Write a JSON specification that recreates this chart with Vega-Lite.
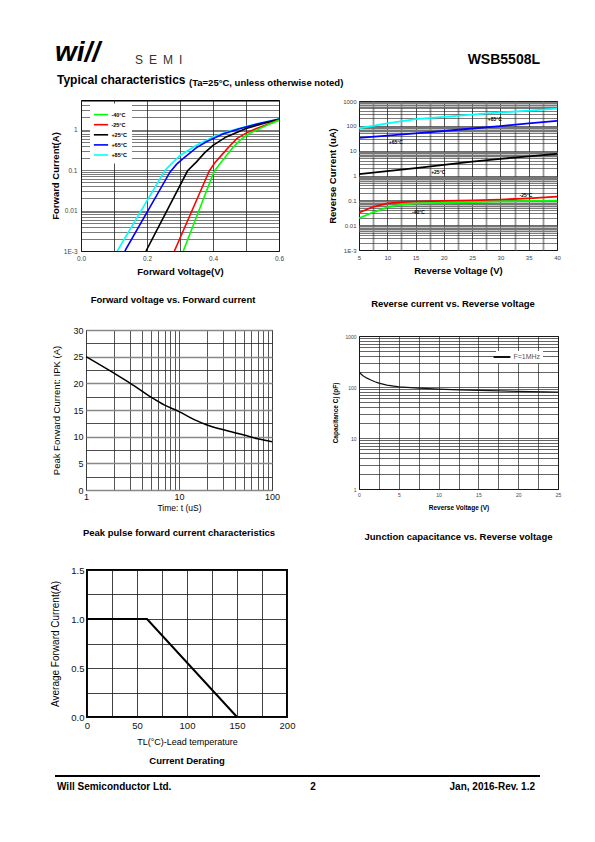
{
"$schema":"https://vega.github.io/schema/vega-lite/v6.json",
"padding":0,
"background":"white",
"bounds":"flush",
"spacing":0,
"resolve":{"scale":{"color":"independent"},"legend":{"color":"independent"}},
"config":{
 "font":"Liberation Sans",
 "view":{"stroke":null},
 "axis":{"ticks":false,"domain":false,"labelOverlap":false,"labelFlush":false,"labelBound":false,"gridOpacity":1,"titleColor":"black"},
 "title":{"baseline":"alphabetic","color":"black","offset":0}
},
"datasets":{
 "fv":[
  {"s":"+85°C","v":0.11,"i":0.001},{"s":"+85°C","v":0.255,"i":0.1},{"s":"+85°C","v":0.28,"i":0.16},{"s":"+85°C","v":0.3,"i":0.23},{"s":"+85°C","v":0.35,"i":0.41},{"s":"+85°C","v":0.4,"i":0.66},{"s":"+85°C","v":0.45,"i":0.92},{"s":"+85°C","v":0.5,"i":1.2},{"s":"+85°C","v":0.55,"i":1.5},{"s":"+85°C","v":0.6,"i":1.85},
  {"s":"+65°C","v":0.133,"i":0.001},{"s":"+65°C","v":0.27,"i":0.09},{"s":"+65°C","v":0.29,"i":0.14},{"s":"+65°C","v":0.31,"i":0.195},{"s":"+65°C","v":0.35,"i":0.36},{"s":"+65°C","v":0.38,"i":0.5},{"s":"+65°C","v":0.43,"i":0.78},{"s":"+65°C","v":0.48,"i":1.05},{"s":"+65°C","v":0.54,"i":1.42},{"s":"+65°C","v":0.6,"i":1.8},
  {"s":"+25°C","v":0.197,"i":0.001},{"s":"+25°C","v":0.323,"i":0.096},{"s":"+25°C","v":0.35,"i":0.16},{"s":"+25°C","v":0.375,"i":0.27},{"s":"+25°C","v":0.4,"i":0.41},{"s":"+25°C","v":0.44,"i":0.66},{"s":"+25°C","v":0.5,"i":1.07},{"s":"+25°C","v":0.55,"i":1.4},{"s":"+25°C","v":0.6,"i":1.8},
  {"s":"-25°C","v":0.283,"i":0.001},{"s":"-25°C","v":0.389,"i":0.096},{"s":"-25°C","v":0.405,"i":0.15},{"s":"-25°C","v":0.426,"i":0.234},{"s":"-25°C","v":0.45,"i":0.39},{"s":"-25°C","v":0.472,"i":0.6},{"s":"-25°C","v":0.5,"i":0.82},{"s":"-25°C","v":0.532,"i":1.07},{"s":"-25°C","v":0.57,"i":1.4},{"s":"-25°C","v":0.6,"i":1.75},
  {"s":"-40°C","v":0.31,"i":0.001},{"s":"-40°C","v":0.403,"i":0.091},{"s":"-40°C","v":0.42,"i":0.14},{"s":"-40°C","v":0.4415,"i":0.234},{"s":"-40°C","v":0.46,"i":0.36},{"s":"-40°C","v":0.482,"i":0.55},{"s":"-40°C","v":0.51,"i":0.8},{"s":"-40°C","v":0.542,"i":1.07},{"s":"-40°C","v":0.57,"i":1.35},{"s":"-40°C","v":0.6,"i":1.7}
 ],
 "rv":[
  {"s":"+85°C","v":5,"i":80},{"s":"+85°C","v":10,"i":125},{"s":"+85°C","v":15,"i":185},{"s":"+85°C","v":20,"i":230},{"s":"+85°C","v":25,"i":285},{"s":"+85°C","v":30,"i":345},{"s":"+85°C","v":35,"i":410},{"s":"+85°C","v":40,"i":490},
  {"s":"+65°C","v":5,"i":33},{"s":"+65°C","v":10,"i":40},{"s":"+65°C","v":15,"i":50},{"s":"+65°C","v":20,"i":62},{"s":"+65°C","v":25,"i":78},{"s":"+65°C","v":30,"i":98},{"s":"+65°C","v":35,"i":125},{"s":"+65°C","v":40,"i":158},
  {"s":"+25°C","v":5,"i":1.13},{"s":"+25°C","v":10,"i":1.5},{"s":"+25°C","v":15,"i":2.0},{"s":"+25°C","v":20,"i":2.7},{"s":"+25°C","v":25,"i":3.6},{"s":"+25°C","v":30,"i":4.7},{"s":"+25°C","v":35,"i":5.9},{"s":"+25°C","v":40,"i":7.4},
  {"s":"-25°C","v":5,"i":0.032},{"s":"-25°C","v":7.5,"i":0.055},{"s":"-25°C","v":10,"i":0.076},{"s":"-25°C","v":12.5,"i":0.085},{"s":"-25°C","v":15,"i":0.089},{"s":"-25°C","v":20,"i":0.095},{"s":"-25°C","v":25,"i":0.1},{"s":"-25°C","v":30,"i":0.107},{"s":"-25°C","v":35,"i":0.12},{"s":"-25°C","v":40,"i":0.14},
  {"s":"-40°C","v":5,"i":0.019},{"s":"-40°C","v":7.5,"i":0.033},{"s":"-40°C","v":10,"i":0.052},{"s":"-40°C","v":12.5,"i":0.068},{"s":"-40°C","v":15,"i":0.076},{"s":"-40°C","v":20,"i":0.08},{"s":"-40°C","v":25,"i":0.085},{"s":"-40°C","v":30,"i":0.09},{"s":"-40°C","v":35,"i":0.095},{"s":"-40°C","v":40,"i":0.098}
 ],
 "rvl":[
  {"v":29,"i":190,"t":"+85°C"},{"v":11.5,"i":23,"t":"+65°C"},{"v":19,"i":1.36,"t":"+25°C"},{"v":34.5,"i":0.165,"t":"-25°C"},{"v":15.5,"i":0.033,"t":"-40°C"}
 ],
 "pk":[
  {"t":1,"a":25},{"t":2,"a":21.9},{"t":3,"a":20.0},{"t":5,"a":17.4},{"t":7,"a":15.9},{"t":10,"a":14.7},{"t":15,"a":13.1},{"t":20,"a":12.2},{"t":30,"a":11.3},{"t":50,"a":10.3},{"t":70,"a":9.6},{"t":100,"a":9.05}
 ],
 "cj":[
  {"s":"F=1MHz","v":0,"c":200},{"s":"F=1MHz","v":0.25,"c":180},{"s":"F=1MHz","v":0.5,"c":166},{"s":"F=1MHz","v":1,"c":149},{"s":"F=1MHz","v":1.5,"c":137},{"s":"F=1MHz","v":2,"c":127},{"s":"F=1MHz","v":2.5,"c":119},{"s":"F=1MHz","v":3.5,"c":109},{"s":"F=1MHz","v":5,"c":101},{"s":"F=1MHz","v":7.5,"c":95},{"s":"F=1MHz","v":10,"c":91},{"s":"F=1MHz","v":12.5,"c":88},{"s":"F=1MHz","v":15,"c":86},{"s":"F=1MHz","v":20,"c":82},{"s":"F=1MHz","v":25,"c":79}
 ],
 "der":[
  {"t":0,"a":1},{"t":60,"a":1},{"t":150,"a":0}
 ]
},
"vconcat":[
 {"width":1,"height":71,"data":{"values":[]},"mark":"point"},
 {"hconcat":[
   {"width":55,"height":1,"data":{"values":[]},"mark":"point"},
   {"width":80,"height":1,"data":{"values":[]},"mark":"point","title":{"text":"wi//","anchor":"start","fontSize":28,"fontWeight":"bold","fontStyle":"italic"}},
   {"width":200,"height":1,"data":{"values":[]},"mark":"point","title":{"text":"S\u2002E\u2002M\u2002I","anchor":"start","fontSize":12,"fontWeight":"normal","color":"#333"}},
   {"width":205,"height":1,"data":{"values":[]},"mark":"point","title":{"text":"WSB5508L","anchor":"end","fontSize":14,"fontWeight":"bold"}}
  ],"spacing":0,"bounds":"flush","resolve":{"scale":{"color":"independent"},"legend":{"color":"independent"}}},
 {"width":1,"height":20,"data":{"values":[]},"mark":"point"},
 {"hconcat":[
   {"width":57,"height":1,"data":{"values":[]},"mark":"point"},
   {"width":132,"height":1,"data":{"values":[]},"mark":"point","title":{"text":"Typical characteristics","anchor":"start","fontSize":12,"fontWeight":"bold"}},
   {"width":300,"height":1,"data":{"values":[]},"mark":"point","title":{"text":"(Ta=25°C, unless otherwise noted)","anchor":"start","fontSize":9.5,"fontWeight":"bold"}}
  ],"spacing":0,"bounds":"flush","resolve":{"scale":{"color":"independent"},"legend":{"color":"independent"}}},
 {"width":1,"height":9,"data":{"values":[]},"mark":"point"},
 {"hconcat":[
   {"width":81,"height":1,"data":{"values":[]},"mark":"point"},
   {
    "width":198,"height":151,
    "view":{"stroke":"black","strokeWidth":1},
    "data":{"name":"fv"},
    "title":{"text":"Forward voltage vs. Forward current","orient":"bottom","anchor":"middle","frame":"group","dx":-7,"offset":19,"fontSize":9.5,"fontWeight":"bold"},
    "mark":{"type":"line","strokeWidth":1.6,"clip":true},
    "encoding":{
     "x":{"field":"v","type":"quantitative","scale":{"domain":[0,0.6],"nice":false,"zero":false},
      "axis":{"values":[0,0.1,0.2,0.3,0.4,0.5,0.6],"labelExpr":"datum.value==0?'0.0':datum.value==0.2?'0.2':datum.value==0.4?'0.4':datum.value==0.6?'0.6':''","grid":true,"gridColor":"#222","gridWidth":0.8,"labelFontSize":6.5,"labelColor":"#444","labelPadding":4,"title":"Forward Voltage(V)","titleFontSize":9.5,"titleFontWeight":"bold","titlePadding":5}},
     "y":{"field":"i","type":"quantitative","scale":{"type":"log","domain":[0.001,5.4],"nice":false},
      "axis":{"values":[0.001,0.002,0.003,0.004,0.005,0.006,0.007,0.008,0.009,0.01,0.02,0.03,0.04,0.05,0.06,0.07,0.08,0.09,0.1,0.2,0.3,0.4,0.5,0.6,0.7,0.8,0.9,1,2,3,4,5],"labelExpr":"datum.value==0.001?'1E-3':datum.value==0.01?'0.01':datum.value==0.1?'0.1':datum.value==1?'1':''","grid":true,"gridColor":"#222","gridWidth":0.6,"labelFontSize":6.5,"labelColor":"#444","labelPadding":4,"title":"Forward Current(A)","titleFontSize":9.5,"titleFontWeight":"bold","titlePadding":3}},
     "color":{"field":"s","type":"nominal","scale":{"domain":["-40°C","-25°C","+25°C","+65°C","+85°C"],"range":["#00ff00","#ff0000","#000000","#0000ff","#00ffff"]},
      "legend":{"title":null,"orient":"none","legendX":9,"legendY":3.6,"fillColor":"white","padding":5,"symbolType":"M-1.5,0H1.5","symbolSize":90,"symbolStrokeWidth":1.6,"labelFontSize":5.5,"labelFontWeight":"bold","labelColor":"black","labelOffset":4.4,"rowPadding":0.1}}
    }
   },
   {"width":80,"height":1,"data":{"values":[]},"mark":"point"},
   {"vconcat":[
     {"width":1,"height":1,"data":{"values":[]},"mark":"point"},
     {
      "width":198,"height":149,
      "view":{"stroke":"black","strokeWidth":1},
      "title":{"text":"Reverse current vs. Reverse voltage","orient":"bottom","anchor":"middle","frame":"group","dx":-5,"offset":24,"fontSize":9.5,"fontWeight":"bold"},
      "encoding":{
       "x":{"field":"v","type":"quantitative","scale":{"domain":[5,40],"nice":false,"zero":false},
        "axis":{"values":[5,7.5,10,12.5,15,17.5,20,22.5,25,27.5,30,32.5,35,37.5,40],"labelExpr":"datum.value%5==0?format(datum.value,'d'):''","labelOverlap":false,"labelFlush":false,"grid":true,"gridColor":{"condition":{"test":"datum.value%5==0","value":"#222"},"value":"#999"},"gridWidth":{"condition":{"test":"datum.value%5==0","value":0.8},"value":1.8},"labelFontSize":6,"labelColor":"#444","labelPadding":4,"title":"Reverse Voltage (V)","titleFontSize":9.5,"titleFontWeight":"bold","titlePadding":5}},
       "y":{"field":"i","type":"quantitative","scale":{"type":"log","domain":[0.001,1000],"nice":false},
        "axis":{"values":[0.001,0.002,0.003,0.004,0.005,0.006,0.007,0.008,0.009,0.01,0.02,0.03,0.04,0.05,0.06,0.07,0.08,0.09,0.1,0.2,0.3,0.4,0.5,0.6,0.7,0.8,0.9,1,2,3,4,5,6,7,8,9,10,20,30,40,50,60,70,80,90,100,200,300,400,500,600,700,800,900,1000],"labelExpr":"datum.value==0.001?'1E-3':datum.value==0.01?'0.01':datum.value==0.1?'0.1':datum.value==1?'1':datum.value==10?'10':datum.value==100?'100':datum.value==1000?'1000':''","labelOverlap":false,"grid":true,"gridColor":{"condition":{"test":"datum.value/pow(10,floor(log(datum.value)/LN10+1e-9))>5.5","value":"#777"},"value":"#222"},"gridWidth":{"condition":{"test":"datum.value/pow(10,floor(log(datum.value)/LN10+1e-9))>5.5","value":1.4},"value":0.6},"labelFontSize":6,"labelColor":"#444","labelPadding":3,"title":"Reverse Current (uA)","titleFontSize":9.5,"titleFontWeight":"bold","titlePadding":5}}
      },
      "layer":[
       {
        "data":{"name":"rv"},
        "mark":{"type":"line","strokeWidth":1.8,"clip":true},
        "encoding":{
         "color":{"field":"s","type":"nominal","scale":{"domain":["-40°C","-25°C","+25°C","+65°C","+85°C"],"range":["#00ff00","#ff0000","#000000","#0000ff","#00ffff"]},"legend":null}
        }
       },
       {
        "data":{"name":"rvl"},
        "mark":{"type":"text","fontSize":5,"fontWeight":"bold","color":"black"},
        "encoding":{
         "text":{"field":"t"}
        }
       }
      ]
     }
    ],"spacing":0,"bounds":"flush","resolve":{"scale":{"color":"independent"},"legend":{"color":"independent"}}}
  ],"spacing":0,"bounds":"flush","resolve":{"scale":{"color":"independent"},"legend":{"color":"independent"}}},
 {"width":1,"height":230,"data":{"values":[]},"mark":"point"},
 {"hconcat":[
   {"width":86,"height":1,"data":{"values":[]},"mark":"point"},
   {
    "width":186,"height":160,
    "view":{"stroke":"black","strokeWidth":1},
    "data":{"name":"pk"},
    "title":{"text":"Peak pulse forward current characteristics","orient":"bottom","anchor":"middle","frame":"group","offset":16,"fontSize":9.5,"fontWeight":"bold"},
    "mark":{"type":"line","color":"black","strokeWidth":1.5,"interpolate":"monotone"},
    "encoding":{
     "x":{"field":"t","type":"quantitative","scale":{"type":"log","domain":[1,100],"nice":false},
      "axis":{"values":[1,2,3,4,5,6,7,8,9,10,20,30,40,50,60,70,80,90,100],"labelExpr":"datum.value==1||datum.value==10||datum.value==100?format(datum.value,'d'):''","grid":true,"gridColor":"#444","gridWidth":0.9,"labelFontSize":9,"labelColor":"#111","labelPadding":2,"title":"Time: t (uS)","titleFontSize":8.5,"titleFontWeight":"normal","titlePadding":2}},
     "y":{"field":"a","type":"quantitative","scale":{"domain":[0,30],"nice":false},
      "axis":{"values":[0,2.5,5,7.5,10,12.5,15,17.5,20,22.5,25,27.5,30],"labelExpr":"datum.value%5==0?format(datum.value,'d'):''","grid":true,"gridColor":{"condition":{"test":"datum.value%5==0","value":"#888"},"value":"#222"},"gridWidth":{"condition":{"test":"datum.value%5==0","value":1.3},"value":0.8},"labelFontSize":9,"labelColor":"#111","labelPadding":3,"title":"Peak Forward Current: IPK (A)","titleFontSize":9.5,"titleFontWeight":"normal","titlePadding":11}}
    }
   },
   {"width":87,"height":1,"data":{"values":[]},"mark":"point"},
   {"vconcat":[
     {"width":1,"height":6,"data":{"values":[]},"mark":"point"},
     {
      "width":199,"height":153,
      "view":{"stroke":"black","strokeWidth":1},
      "data":{"name":"cj"},
      "title":{"text":"Junction capacitance vs. Reverse voltage","orient":"bottom","anchor":"middle","frame":"group","offset":21,"fontSize":9.5,"fontWeight":"bold"},
      "mark":{"type":"line","strokeWidth":1.2,"clip":true},
      "encoding":{
       "x":{"field":"v","type":"quantitative","scale":{"domain":[0,25],"nice":false,"zero":false},
        "axis":{"values":[0,2.5,5,7.5,10,12.5,15,17.5,20,22.5,25],"labelExpr":"datum.value%5==0?format(datum.value,'d'):''","grid":true,"gridColor":"#222","gridWidth":0.7,"labelFontSize":5,"labelColor":"#444","labelPadding":3,"title":"Reverse Voltage (V)","titleFontSize":6.5,"titleFontWeight":"bold","titlePadding":7}},
       "y":{"field":"c","type":"quantitative","scale":{"type":"log","domain":[1,1000],"nice":false},
        "axis":{"values":[1,2,3,4,5,6,7,8,9,10,20,30,40,50,60,70,80,90,100,200,300,400,500,600,700,800,900,1000],"labelExpr":"datum.value==1||datum.value==10||datum.value==100||datum.value==1000?format(datum.value,'d'):''","grid":true,"gridColor":"#222","gridWidth":0.7,"labelFontSize":5,"labelColor":"#444","labelPadding":3,"title":"Capacitance Cj (pF)","titleFontSize":6.5,"titleFontWeight":"bold","titlePadding":6}},
       "color":{"field":"s","type":"nominal","scale":{"domain":["F=1MHz"],"range":["#111111"]},
        "legend":{"title":null,"orient":"none","legendX":137,"legendY":15,"fillColor":"white","padding":2,"symbolType":"M-2.8,0H2.8","symbolSize":36,"symbolStrokeWidth":2,"labelFontSize":7,"labelColor":"#555","labelOffset":7.4,"encode":{"symbols":{"update":{"stroke":{"value":"#666"}}}}}}
      }
     }
    ],"spacing":0,"bounds":"flush","resolve":{"scale":{"color":"independent"},"legend":{"color":"independent"}}}
  ],"spacing":0,"bounds":"flush","resolve":{"scale":{"color":"independent"},"legend":{"color":"independent"}}},
 {"width":1,"height":240,"data":{"values":[]},"mark":"point"},
 {"hconcat":[
   {"width":87,"height":1,"data":{"values":[]},"mark":"point"},
   {
    "width":200,"height":147,
    "view":{"stroke":"black","strokeWidth":2},
    "data":{"name":"der"},
    "title":{"text":"Current Derating","orient":"bottom","anchor":"middle","frame":"group","offset":9,"fontSize":9.5,"fontWeight":"bold"},
    "mark":{"type":"line","color":"black","strokeWidth":2},
    "encoding":{
     "x":{"field":"t","type":"quantitative","scale":{"domain":[0,200],"nice":false},
      "axis":{"values":[0,25,50,75,100,125,150,175,200],"labelExpr":"datum.value%50==0?format(datum.value,'d'):''","grid":true,"gridColor":"#111","gridWidth":0.8,"labelFontSize":9.5,"labelColor":"#111","labelPadding":3,"title":"TL(°C)-Lead temperature","titleFontSize":9,"titleFontWeight":"normal","titlePadding":8}},
     "y":{"field":"a","type":"quantitative","scale":{"domain":[0,1.5],"nice":false},
      "axis":{"values":[0,0.25,0.5,0.75,1,1.25,1.5],"labelExpr":"datum.value==0?'0.0':datum.value==0.5?'0.5':datum.value==1?'1.0':datum.value==1.5?'1.5':''","grid":true,"gridColor":"#111","gridWidth":0.8,"labelFontSize":9.5,"labelColor":"#111","labelPadding":3,"title":"Average Forward Current(A)","titleFontSize":10,"titleFontWeight":"normal","titlePadding":10}}
    }
   }
  ],"spacing":0,"bounds":"flush","resolve":{"scale":{"color":"independent"},"legend":{"color":"independent"}}},
 {"width":1,"height":205,"data":{"values":[]},"mark":"point"},
 {"hconcat":[
   {"width":55,"height":1,"data":{"values":[]},"mark":"point"},
   {"width":485,"height":2,"view":{"fill":"black","stroke":null},"data":{"values":[]},"mark":"point"}
  ],"spacing":0,"bounds":"flush","resolve":{"scale":{"color":"independent"},"legend":{"color":"independent"}}},
 {"width":1,"height":21,"data":{"values":[]},"mark":"point"},
 {"hconcat":[
   {"width":57,"height":1,"data":{"values":[]},"mark":"point"},
   {"width":255,"height":1,"data":{"values":[]},"mark":"point","title":{"text":"Will Semiconductor Ltd.","anchor":"start","fontSize":10,"fontWeight":"bold"}},
   {"width":2,"height":1,"data":{"values":[]},"mark":"point","title":{"text":"2","anchor":"middle","fontSize":10,"fontWeight":"bold"}},
   {"width":221,"height":1,"data":{"values":[]},"mark":"point","title":{"text":"Jan, 2016-Rev. 1.2","anchor":"end","fontSize":10,"fontWeight":"bold"}}
  ],"spacing":0,"bounds":"flush","resolve":{"scale":{"color":"independent"},"legend":{"color":"independent"}}}
]
}
